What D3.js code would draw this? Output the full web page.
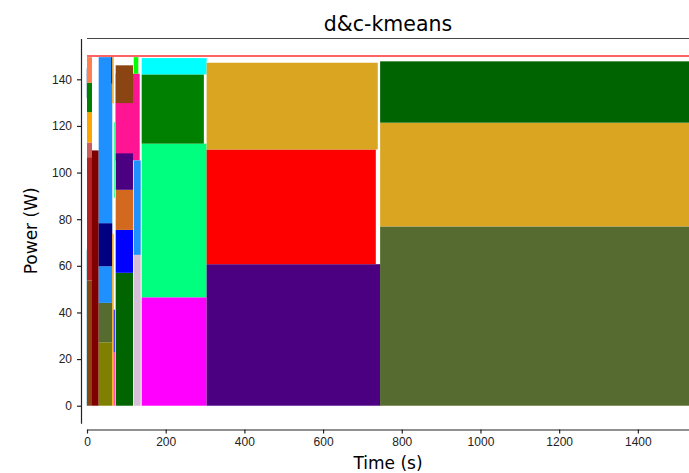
<!DOCTYPE html>
<html>
<head>
<meta charset="utf-8">
<script src="https://cdn.jsdelivr.net/npm/d3@7"></script>
<style>
  body { margin: 0; background: #fff; }
  svg { display: block; font-family: "DejaVu Sans", sans-serif; }
  .axis text { font-size: 12px; fill: #222; }
  .axis path, .axis line { stroke: #222; }
</style>
</head>
<body>
<svg id="chart" width="689" height="473"></svg>
<script>
// each task: time span [start, end] (s), stacked power band [low, high] (W)
const taskStart = [-2, -2, 0, 0, 0, 0, 0, 0, 12.7, 29.7, 29.7, 29.7, 29.7, 29.7, 61.8, 64.3, 64.3,
  68, 68, 68, 72.9, 72.9, 72.9, 72.9, 72.9, 72.9, 72.9, 118.7, 118.7, 118.7,
  139, 139, 139, 139, 304, 304, 304, 745, 745, 745];
const taskEnd = [1, 1, 12.7, 12.7, 12.7, 12.7, 12.7, 12.7, 29.7, 64.3, 64.3, 64.3, 64.3, 64.3, 64.3, 67.8, 67.8,
  70.5, 70.5, 70.5, 133.9, 116.9, 116.9, 116.9, 116.9, 116.9, 116.9, 136.5, 136.5, 130.4,
  304, 304, 297, 304, 746, 734, 739, 1530, 1530, 1530];
const powerLow = [0, 132, 0, 53.7, 106.6, 112.9, 125.9, 138.5, 0, 0, 27.2, 44.1, 59.8, 78.3, 138.2, 0, 129.7,
  0, 22.9, 89.2, 105.2, 0, 57, 75.4, 92.6, 108.3, 129.8, 0, 64.7, 142.4,
  0, 46.5, 112.4, 142.1, 0, 60.7, 109.9, 0, 76.9, 121.4];
const powerHigh = [67, 144.7, 53.7, 106.6, 112.9, 125.9, 138.5, 149.5, 109.5, 27.2, 44.1, 59.8, 78.3, 149.5, 149.5, 73.8, 149.5,
  22.9, 41.2, 121.6, 142.4, 57, 75.4, 92.6, 108.3, 129.8, 146, 64.7, 105.2, 149.5,
  46.5, 112.4, 142.1, 149.1, 60.7, 109.9, 147.1, 76.9, 121.4, 147.7];
const taskColors = ['#add8e6', '#b0c4de', '#8b4513', '#b22222', '#cd5c5c', '#ffa500', '#008000', '#ff7f50', '#800000',
  '#808000', '#556b2f', '#1e90ff', '#000080', '#1e90ff', '#0000cd', '#ffa500', '#ffa500',
  '#ff1493', '#0000ff', '#00ff7f', '#ff1493', '#006400', '#0000ff', '#d2691e', '#4b0082', '#ff1493', '#8b4513',
  '#d8bfd8', '#1e90ff', '#00ff00',
  '#ff00ff', '#00ff7f', '#008000', '#00ffff', '#4b0082', '#ff0000', '#daa520', '#556b2f', '#daa520', '#006400'];
const powerCap = 150;
const xTicks = [0, 200, 400, 600, 800, 1000, 1200, 1400];
const yTicks = [0, 20, 40, 60, 80, 100, 120, 140];

const margins = { top: 38.5, left: 87, right: 0, bottom: 49.8 };
const width = 689 - margins.left - margins.right;
const height = 473 - margins.top - margins.bottom;

const x = d3.scaleLinear().domain([0, 1530]).range([margins.left, margins.left + width]);
const y = d3.scaleLinear().domain([-7.5, 157.5]).range([margins.top + height, margins.top]);

const svg = d3.select('#chart');

// task rectangles
const tasks = taskStart.map((s, i) => ({ s: s, e: taskEnd[i], lo: powerLow[i], hi: powerHigh[i], c: taskColors[i] }));
svg.append('g').selectAll('rect').data(tasks).join('rect')
    .attr('x', d => x(d.s))
    .attr('y', d => y(d.hi))
    .attr('width', d => x(d.e) - x(d.s))
    .attr('height', d => y(d.lo) - y(d.hi))
    .attr('fill', d => d.c);

// power cap line
svg.append('line')
    .attr('x1', x(0)).attr('x2', x(1530))
    .attr('y1', y(powerCap)).attr('y2', y(powerCap))
    .attr('stroke', '#ff3030').attr('stroke-width', 1.5);

// top spine
svg.append('line')
    .attr('x1', x(0)).attr('x2', x(1530))
    .attr('y1', margins.top).attr('y2', margins.top)
    .attr('stroke', '#444').attr('stroke-width', 1.2);

// offset axes
svg.append('g').attr('class', 'axis')
    .attr('transform', `translate(${margins.left - 6},0)`)
    .call(d3.axisLeft(y).tickValues(yTicks).tickSize(4).tickSizeOuter(0).tickPadding(5))
    .call(g => g.selectAll('path, line').attr('stroke-width', 1.2));

svg.append('g').attr('class', 'axis')
    .attr('transform', `translate(0,${margins.top + height + 6.3})`)
    .call(d3.axisBottom(x).tickValues(xTicks).tickFormat(d3.format('d')).tickSize(4).tickSizeOuter(0).tickPadding(4))
    .call(g => g.selectAll('path, line').attr('stroke-width', 1.2));

svg.append('text')
    .attr('x', x(0) + width / 2).attr('y', 31)
    .attr('text-anchor', 'middle')
    .style('font-size', '20.5px')
    .text('d&c-kmeans');

svg.append('text')
    .attr('x', x(0) + width / 2).attr('y', 469)
    .attr('text-anchor', 'middle')
    .style('font-size', '17px')
    .text('Time (s)');

svg.append('text')
    .attr('transform', `translate(37,${y(75)}) rotate(-90)`)
    .attr('text-anchor', 'middle')
    .style('font-size', '17px')
    .text('Power (W)');
</script>
</body>
</html>
